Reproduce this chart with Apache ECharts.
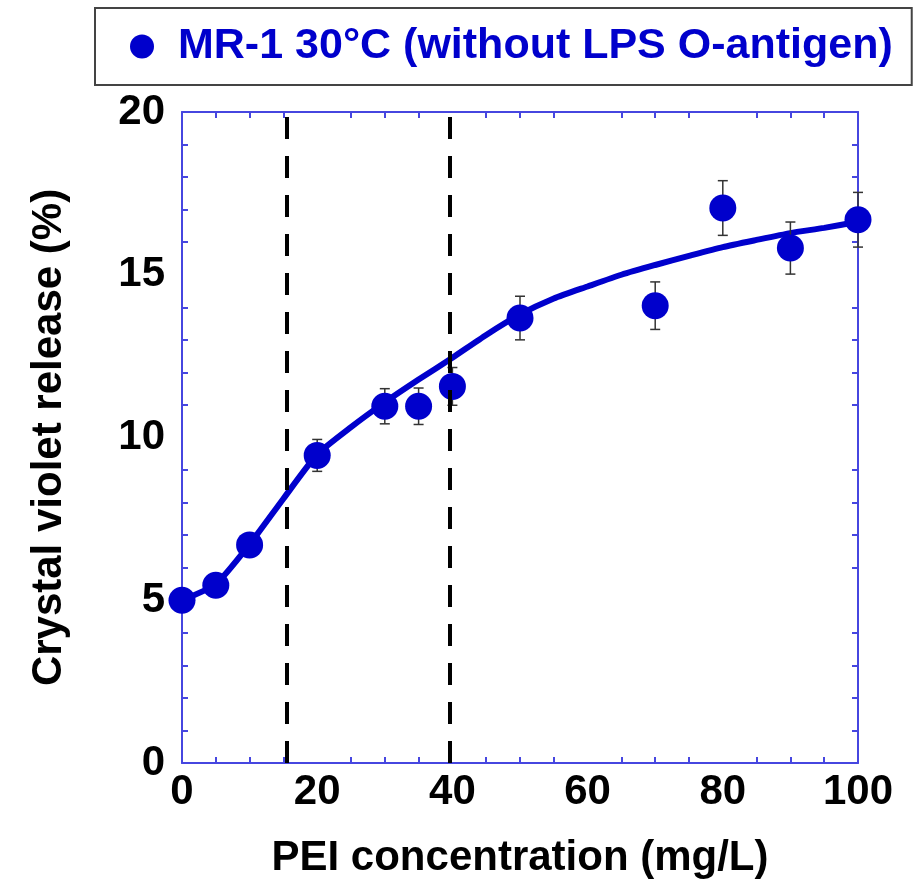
<!DOCTYPE html>
<html>
<head>
<meta charset="utf-8">
<script src="https://cdn.jsdelivr.net/npm/echarts@6/dist/echarts.min.js"></script>
<style>
html,body{margin:0;padding:0;background:#fff;}
#chart{width:916px;height:884px;}
</style>
</head>
<body>
<div id="chart"></div>
<script>
// ---- data ----
const seriesName = 'MR-1 30°C (without LPS O-antigen)';
const xValues = [0, 5, 10, 20, 30, 35, 40, 50, 70, 80, 90, 100];
const yValues = [5.0, 5.46, 6.70, 9.45, 10.96, 10.96, 11.57, 13.67, 14.05, 17.05, 15.82, 16.69];
const yErrors = [0.25, 0.25, 0.25, 0.49, 0.54, 0.56, 0.58, 0.67, 0.73, 0.84, 0.80, 0.84];
const fitX = [0, 5, 10, 15, 20, 25, 30, 35, 40, 45, 50, 55, 60, 65, 70, 75, 80, 85, 90, 95, 100];
const fitY = [5.0, 5.5, 6.72, 8.12, 9.48, 10.32, 11.08, 11.78, 12.45, 13.15, 13.78, 14.27, 14.64, 15.0, 15.3, 15.58, 15.85, 16.07, 16.28, 16.44, 16.63];
const guideX = [15.5, 39.6];
const xTitle = 'PEI concentration (mg/L)';
const yTitle = 'Crystal violet release (%)';

const blue = '#0000cc';
const axisBlue = '#4646e0';
const font = 'Liberation Sans, Arial, sans-serif';

const points = xValues.map((x, i) => [x, yValues[i]]);
const errData = xValues.map((x, i) => [x, yValues[i], yErrors[i]]);
const fitData = fitX.map((x, i) => [x, fitY[i]]);

const chart = echarts.init(document.getElementById('chart'), null, {renderer: 'canvas'});

function baseX(extra) {
  return Object.assign({
    type: 'value', min: 0, max: 100, interval: 20,
    axisLine: {show: true, onZero: false, lineStyle: {color: axisBlue, width: 2}},
    axisTick: {show: false, inside: true},
    minorTick: {show: true, splitNumber: 4, length: 6, lineStyle: {color: axisBlue, width: 2}},
    splitLine: {show: false},
    minorSplitLine: {show: false}
  }, extra);
}
function baseY(extra) {
  return Object.assign({
    type: 'value', min: 0, max: 20, interval: 5,
    axisLine: {show: true, onZero: false, lineStyle: {color: axisBlue, width: 2}},
    axisTick: {show: false, inside: true},
    minorTick: {show: true, splitNumber: 5, length: 6, lineStyle: {color: axisBlue, width: 2}},
    splitLine: {show: false},
    minorSplitLine: {show: false}
  }, extra);
}

const option = {
  animation: false,
  backgroundColor: '#fff',
  grid: {left: 182, right: 58, top: 112, bottom: 120},
  legend: {
    show: true,
    left: 95, top: 8,
    padding: [17, 19, 17, 35],
    borderColor: '#444', borderWidth: 2,
    itemWidth: 24, itemHeight: 24,
    icon: 'circle',
    data: [seriesName],
    textStyle: {color: blue, fontSize: 43, fontWeight: 'bold', fontFamily: font, padding: [0, 0, 0, 19]}
  },
  xAxis: [
    baseX({
      position: 'bottom',
      name: xTitle, nameLocation: 'middle', nameGap: 74,
      nameTextStyle: {color: '#000', fontSize: 42, fontWeight: 'bold', fontFamily: font},
      axisLabel: {color: '#000', fontSize: 42, fontWeight: 'bold', fontFamily: font, margin: 8}
    }),
    baseX({position: 'top', axisLabel: {show: false}})
  ],
  yAxis: [
    baseY({
      position: 'left',
      name: yTitle, nameLocation: 'middle', nameGap: 112,
      nameTextStyle: {color: '#000', fontSize: 42, fontWeight: 'bold', fontFamily: font},
      axisLabel: {color: '#000', fontSize: 42, fontWeight: 'bold', fontFamily: font, margin: 17, padding: [0, 0, 14, 0]}
    }),
    baseY({position: 'right', axisLabel: {show: false}})
  ],
  series: [
    {
      name: 'fit', type: 'line', data: fitData, smooth: 0.2,
      showSymbol: false, symbol: 'none',
      lineStyle: {color: blue, width: 6},
      z: 2,
      markLine: {
        silent: true, symbol: ['none', 'none'],
        label: {show: false},
        lineStyle: {color: '#000', width: 4, type: [22, 17]},
        data: guideX.map(v => ({xAxis: v}))
      }
    },
    {
      name: 'err', type: 'custom', data: errData, z: 3,
      renderItem: function (params, api) {
        const x = api.value(0), y = api.value(1), e = api.value(2);
        const t = api.coord([x, y + e]);
        const b = api.coord([x, y - e]);
        const hw = 5;
        const st = {stroke: '#333', lineWidth: 1.5};
        return {type: 'group', children: [
          {type: 'line', shape: {x1: t[0], y1: t[1], x2: b[0], y2: b[1]}, style: st},
          {type: 'line', shape: {x1: t[0] - hw, y1: t[1], x2: t[0] + hw, y2: t[1]}, style: st},
          {type: 'line', shape: {x1: b[0] - hw, y1: b[1], x2: b[0] + hw, y2: b[1]}, style: st}
        ]};
      }
    },
    {
      name: seriesName, type: 'scatter', data: points,
      symbol: 'circle', symbolSize: 27,
      itemStyle: {color: blue, opacity: 1},
      z: 4
    }
  ]
};
chart.setOption(option);
</script>
</body>
</html>
